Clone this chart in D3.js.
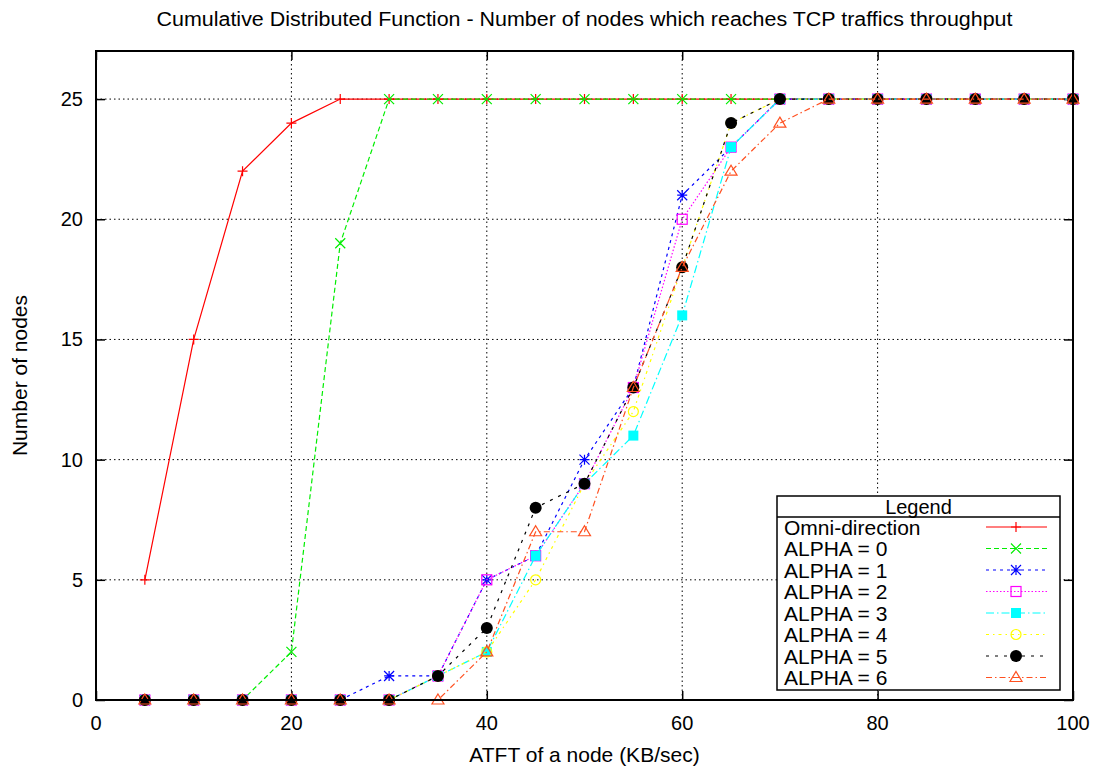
<!DOCTYPE html>
<html>
<head>
<meta charset="utf-8">
<script src="https://cdn.jsdelivr.net/npm/d3@7"></script>
<style>
  body { margin: 0; background: #fff; }
  text { font-family: "Liberation Sans", Arial, sans-serif; }
</style>
</head>
<body>
<div id="chart"></div>
<script>
'use strict';

// x positions (KB/sec)
const throughput = [5, 10, 15, 20, 25, 30, 35, 40, 45, 50, 55, 60, 65, 70, 75, 80, 85, 90, 95, 100];

// number of nodes per series
const omniValues   = [5, 15, 22, 24, 25, 25, 25, 25, 25, 25, 25, 25, 25, 25, 25, 25, 25, 25, 25, 25];
const alpha0Values = [0, 0, 0, 2, 19, 25, 25, 25, 25, 25, 25, 25, 25, 25, 25, 25, 25, 25, 25, 25];
const alpha1Values = [0, 0, 0, 0, 0, 1, 1, 5, 6, 10, 13, 21, 23, 25, 25, 25, 25, 25, 25, 25];
const alpha2Values = [0, 0, 0, 0, 0, 0, 1, 5, 6, 9, 13, 20, 23, 25, 25, 25, 25, 25, 25, 25];
const alpha3Values = [0, 0, 0, 0, 0, 0, 1, 2, 6, 9, 11, 16, 23, 25, 25, 25, 25, 25, 25, 25];
const alpha4Values = [0, 0, 0, 0, 0, 0, 1, 2, 5, 9, 12, 18, 24, 25, 25, 25, 25, 25, 25, 25];
const alpha5Values = [0, 0, 0, 0, 0, 0, 1, 3, 8, 9, 13, 18, 24, 25, 25, 25, 25, 25, 25, 25];
const alpha6Values = [0, 0, 0, 0, 0, 0, 0, 2, 7, 7, 13, 18, 22, 24, 25, 25, 25, 25, 25, 25];

const seriesNames = ["Omni-direction", "ALPHA = 0", "ALPHA = 1", "ALPHA = 2", "ALPHA = 3", "ALPHA = 4", "ALPHA = 5", "ALPHA = 6"];
const xTicks = [0, 20, 40, 60, 80, 100];
const yTicks = [0, 5, 10, 15, 20, 25];

// styles for each series: colour, dash, marker
const styles = [
    { color: "#ff0000", dash: null,          marker: "plus" },
    { color: "#00ee00", dash: "5,3",         marker: "cross" },
    { color: "#0000ff", dash: "3,4",         marker: "star" },
    { color: "#ff00ff", dash: "1.5,2",       marker: "square" },
    { color: "#00ffff", dash: "8,3,1.5,3",   marker: "fsquare" },
    { color: "#ffff00", dash: "3,4,1.5,4",   marker: "circle" },
    { color: "#000000", dash: "3,6",         marker: "fcircle" },
    { color: "#ff5020", dash: "6,3,1.5,3",   marker: "triangle" }
];

const allValues = [omniValues, alpha0Values, alpha1Values, alpha2Values, alpha3Values, alpha4Values, alpha5Values, alpha6Values];

const width = 1102, height = 772;
const margin = { left: 96, right: 29, top: 51, bottom: 72 };

const svg = d3.select("#chart").append("svg")
    .attr("width", width)
    .attr("height", height);

const xScale = d3.scaleLinear().domain([0, 100]).range([margin.left, width - margin.right]);
const yScale = d3.scaleLinear().domain([0, 27]).range([height - margin.bottom, margin.top]);

const x0 = xScale(0), x1 = xScale(100), y0 = yScale(0), y1 = yScale(27);

// grid lines
const grid = svg.append("g").attr("stroke", "#000").attr("stroke-width", 1).attr("stroke-dasharray", "1.5,3");
xTicks.slice(1, -1).forEach(t => {
    grid.append("line").attr("x1", xScale(t)).attr("x2", xScale(t)).attr("y1", y0).attr("y2", y1);
});
yTicks.slice(1).forEach(t => {
    grid.append("line").attr("x1", x0).attr("x2", x1).attr("y1", yScale(t)).attr("y2", yScale(t));
});

// axes with inward ticks, mirrored
svg.append("g").attr("transform", "translate(0," + y0 + ")")
    .call(d3.axisTop(xScale).tickValues(xTicks).tickSize(9).tickFormat(""))
    .call(g => g.select(".domain").remove());
svg.append("g").attr("transform", "translate(0," + y1 + ")")
    .call(d3.axisBottom(xScale).tickValues(xTicks).tickSize(9).tickFormat(""))
    .call(g => g.select(".domain").remove());
svg.append("g").attr("transform", "translate(" + x0 + ",0)")
    .call(d3.axisRight(yScale).tickValues(yTicks).tickSize(9).tickFormat(""))
    .call(g => g.select(".domain").remove());
svg.append("g").attr("transform", "translate(" + x1 + ",0)")
    .call(d3.axisLeft(yScale).tickValues(yTicks).tickSize(9).tickFormat(""))
    .call(g => g.select(".domain").remove());
svg.selectAll(".tick line").attr("stroke", "#000").attr("stroke-width", 1.5);

// tick labels
svg.append("g").selectAll("text").data(xTicks).enter().append("text")
    .attr("x", d => xScale(d)).attr("y", y0 + 30)
    .attr("text-anchor", "middle").attr("font-size", 20)
    .text(d => d);
svg.append("g").selectAll("text").data(yTicks).enter().append("text")
    .attr("x", x0 - 13).attr("y", d => yScale(d) + 7)
    .attr("text-anchor", "end").attr("font-size", 20)
    .text(d => d);

// titles
svg.append("text").attr("x", (x0 + x1) / 2).attr("y", 26)
    .attr("text-anchor", "middle").attr("font-size", 20)
    .attr("textLength", 856).attr("lengthAdjust", "spacingAndGlyphs")
    .text("Cumulative Distributed Function - Number of nodes which reaches TCP traffics throughput");
svg.append("text").attr("x", (x0 + x1) / 2).attr("y", 762)
    .attr("text-anchor", "middle").attr("font-size", 21)
    .text("ATFT of a node (KB/sec)");
svg.append("text").attr("transform", "translate(27," + ((y0 + y1) / 2) + ") rotate(-90)")
    .attr("text-anchor", "middle").attr("font-size", 21)
    .text("Number of nodes");

// marker drawing
function drawMarker(g, type, color, cx, cy) {
    const s = 5;
    if (type === "plus") {
        g.append("path").attr("d", `M${cx - s},${cy}H${cx + s}M${cx},${cy - s}V${cy + s}`)
            .attr("stroke", color).attr("stroke-width", 1.2).attr("fill", "none");
    } else if (type === "cross") {
        g.append("path").attr("d", `M${cx - s},${cy - s}L${cx + s},${cy + s}M${cx - s},${cy + s}L${cx + s},${cy - s}`)
            .attr("stroke", color).attr("stroke-width", 1.2).attr("fill", "none");
    } else if (type === "star") {
        g.append("path").attr("d", `M${cx - s},${cy}H${cx + s}M${cx},${cy - s}V${cy + s}M${cx - s},${cy - s}L${cx + s},${cy + s}M${cx - s},${cy + s}L${cx + s},${cy - s}`)
            .attr("stroke", color).attr("stroke-width", 1.2).attr("fill", "none");
    } else if (type === "square") {
        g.append("rect").attr("x", cx - s).attr("y", cy - s).attr("width", 2 * s).attr("height", 2 * s)
            .attr("stroke", color).attr("stroke-width", 1.2).attr("fill", "none");
    } else if (type === "fsquare") {
        g.append("rect").attr("x", cx - s).attr("y", cy - s).attr("width", 2 * s).attr("height", 2 * s)
            .attr("fill", color);
    } else if (type === "circle") {
        g.append("circle").attr("cx", cx).attr("cy", cy).attr("r", s)
            .attr("stroke", color).attr("stroke-width", 1.2).attr("fill", "none");
    } else if (type === "fcircle") {
        g.append("circle").attr("cx", cx).attr("cy", cy).attr("r", 6).attr("fill", color);
    } else if (type === "triangle") {
        g.append("path").attr("d", `M${cx},${cy - s - 1}L${cx + s + 1},${cy + s - 1}L${cx - s - 1},${cy + s - 1}Z`)
            .attr("stroke", color).attr("stroke-width", 1.2).attr("fill", "none");
    }
}

const line = d3.line().x(d => xScale(d[0])).y(d => yScale(d[1]));

allValues.forEach((vals, i) => {
    const st = styles[i];
    const pts = throughput.map((t, j) => [t, vals[j]]);
    const g = svg.append("g").attr("class", "series");
    g.append("path").datum(pts).attr("d", line)
        .attr("fill", "none").attr("stroke", st.color).attr("stroke-width", 1.2)
        .attr("stroke-dasharray", st.dash);
    pts.forEach(p => drawMarker(g, st.marker, st.color, xScale(p[0]), yScale(p[1])));
});

// legend box
const lg = { left: 777, right: 1060, top: 496, sep: 517, bottom: 690 };
svg.append("rect").attr("x", lg.left).attr("y", lg.top)
    .attr("width", lg.right - lg.left).attr("height", lg.bottom - lg.top)
    .attr("fill", "#fff").attr("stroke", "#000").attr("stroke-width", 1.5);
svg.append("line").attr("x1", lg.left).attr("x2", lg.right).attr("y1", lg.sep).attr("y2", lg.sep)
    .attr("stroke", "#000").attr("stroke-width", 1.5);
svg.append("text").attr("x", (lg.left + lg.right) / 2).attr("y", lg.top + 18)
    .attr("text-anchor", "middle").attr("font-size", 20).text("Legend");

seriesNames.forEach((name, i) => {
    const st = styles[i];
    const cy = 527 + i * 21.5;
    svg.append("text").attr("x", 784).attr("y", cy + 7.5).attr("font-size", 21).text(name);
    const g = svg.append("g");
    g.append("line").attr("x1", 986).attr("x2", 1047).attr("y1", cy).attr("y2", cy)
        .attr("stroke", st.color).attr("stroke-width", 1.2).attr("stroke-dasharray", st.dash);
    drawMarker(g, st.marker, st.color, 1016, cy);
});

// border
svg.append("rect").attr("x", x0).attr("y", y1).attr("width", x1 - x0).attr("height", y0 - y1)
    .attr("fill", "none").attr("stroke", "#000").attr("stroke-width", 2);
</script>
</body>
</html>
